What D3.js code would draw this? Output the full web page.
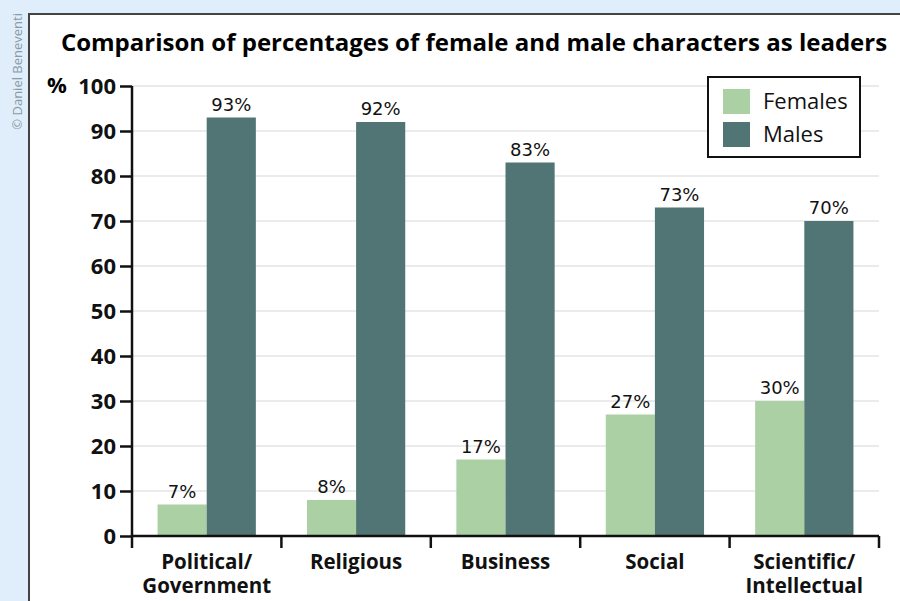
<!DOCTYPE html>
<html>
<head>
<meta charset="utf-8">
<script src="https://cdn.jsdelivr.net/npm/d3@7"></script>
<style>
  body { margin: 0; background: #dfeefa; }
  svg { display: block; font-family: "Open Sans", "Noto Sans", sans-serif; }
</style>
</head>
<body>
<svg id="chart" width="900" height="601"></svg>
<script>
"use strict";

const categories = [["Political/", "Government"], ["Religious"], ["Business"], ["Social"], ["Scientific/", "Intellectual"]];
const females = [7, 8, 17, 27, 30];
const males = [93, 92, 83, 73, 70];
const series = ["Females", "Males"];
const yTicks = [0, 10, 20, 30, 40, 50, 60, 70, 80, 90, 100];

const palette = {Females: "#aad0a3", Males: "#517474"};

const svg = d3.select("#chart");

// white panel
svg.append("rect")
   .attr("x", 29).attr("y", 14)
   .attr("width", 900).attr("height", 620)
   .attr("fill", "#fff")
   .attr("stroke", "#444")
   .attr("stroke-width", 2);

svg.append("text")
   .attr("transform", "translate(22,13) rotate(-90)")
   .attr("text-anchor", "end")
   .attr("font-size", 13)
   .attr("fill", "#8a9aa6")
   .attr("font-family", "'Open Sans', sans-serif")
   .text("\u00a9 Daniel Beneventi");

svg.append("text")
   .attr("x", 474).attr("y", 51)
   .attr("text-anchor", "middle")
   .attr("font-size", 24)
   .attr("font-weight", "bold")
   .text("Comparison of percentages of female and male characters as leaders");

const plotLeft = 132, plotRight = 879, plotTop = 86, plotBottom = 536;

const x = d3.scaleBand()
            .domain(d3.range(categories.length))
            .range([plotLeft, plotRight])
            .paddingInner(0)
            .paddingOuter(0);

const inner = d3.scaleBand()
                .domain(series)
                .range([0, x.bandwidth()])
                .paddingInner(0)
                .paddingOuter(0.52);

const y = d3.scaleLinear().domain([0, 100]).range([plotBottom, plotTop]);

// grid
svg.append("g")
   .selectAll("line")
   .data(yTicks.filter(function(d){ return d > 0; }))
   .enter()
   .append("line")
   .attr("x1", plotLeft).attr("x2", plotRight)
   .attr("y1", function(d){ return y(d); })
   .attr("y2", function(d){ return y(d); })
   .attr("stroke", "#e4e4e4")
   .attr("stroke-width", 1.5);

// bars
const rows = categories.map(function(c, i){
    return [{k: "Females", v: females[i], i: i}, {k: "Males", v: males[i], i: i}];
});

const group = svg.append("g")
                 .selectAll("g")
                 .data(rows)
                 .enter()
                 .append("g")
                 .attr("transform", function(d, i){ return "translate(" + x(i) + ",0)"; });

group.selectAll("rect")
     .data(function(d){ return d; })
     .enter()
     .append("rect")
     .attr("x", function(d){ return inner(d.k); })
     .attr("width", inner.bandwidth())
     .attr("y", function(d){ return y(d.v); })
     .attr("height", function(d){ return y(0) - y(d.v); })
     .attr("fill", function(d){ return palette[d.k]; });

group.selectAll("text")
     .data(function(d){ return d; })
     .enter()
     .append("text")
     .attr("x", function(d){ return inner(d.k) + inner.bandwidth() / 2; })
     .attr("y", function(d){ return y(d.v) - 7; })
     .attr("text-anchor", "middle")
     .attr("font-size", 18)
     .attr("font-family", "'DejaVu Sans', sans-serif")
     .attr("fill", "#111")
     .text(function(d){ return d.v + "%"; });

// y axis
const yAxis = svg.append("g")
                 .attr("transform", "translate(" + plotLeft + ",0)")
                 .call(d3.axisLeft(y).tickValues(yTicks).tickSize(12).tickPadding(4));
yAxis.select(".domain").attr("stroke", "#111").attr("stroke-width", 2.5).attr("d", "M0," + plotTop + "V" + plotBottom);
yAxis.selectAll(".tick line").attr("stroke", "#111").attr("stroke-width", 2.5);
yAxis.selectAll(".tick text")
     .attr("font-size", 22)
     .attr("font-weight", "bold")
     .attr("fill", "#111")
     .attr("font-family", "'Open Sans', sans-serif");

svg.append("text")
   .attr("x", 47).attr("y", y(100))
   .attr("dy", "0.32em")
   .attr("font-size", 22)
   .attr("font-weight", "bold")
   .text("%");

// x axis
svg.append("line")
   .attr("x1", plotLeft).attr("x2", plotRight)
   .attr("y1", plotBottom).attr("y2", plotBottom)
   .attr("stroke", "#111").attr("stroke-width", 2.5);

const bounds = d3.range(categories.length + 1).map(function(i){ return plotLeft + i * x.step(); });
svg.append("g")
   .selectAll("line")
   .data(bounds)
   .enter()
   .append("line")
   .attr("x1", function(d){ return d; }).attr("x2", function(d){ return d; })
   .attr("y1", plotBottom).attr("y2", plotBottom + 12)
   .attr("stroke", "#111").attr("stroke-width", 2.5);

const catLabel = svg.append("g")
   .selectAll("text")
   .data(categories)
   .enter()
   .append("text")
   .attr("x", function(d, i){ return x(i) + x.bandwidth() / 2; })
   .attr("y", 569)
   .attr("text-anchor", "middle")
   .attr("font-size", 20.5)
   .attr("font-weight", "bold")
   .attr("fill", "#111");

catLabel.selectAll("tspan")
        .data(function(d){ return d; })
        .enter()
        .append("tspan")
        .attr("x", function(){ return this.parentNode.getAttribute("x"); })
        .attr("dy", function(d, i){ return i === 0 ? 0 : 24; })
        .text(function(d){ return d; });

// legend
const legend = svg.append("g").attr("transform", "translate(708,77)");
legend.append("rect")
      .attr("width", 152).attr("height", 80)
      .attr("fill", "#fff")
      .attr("stroke", "#111")
      .attr("stroke-width", 2);

const legendRow = legend.selectAll("g.row")
                        .data(series)
                        .enter()
                        .append("g")
                        .attr("class", "row")
                        .attr("transform", function(d, i){ return "translate(15," + (12 + i * 33) + ")"; });

legendRow.append("rect")
         .attr("width", 27).attr("height", 25)
         .attr("fill", function(d){ return palette[d]; });

legendRow.append("text")
         .attr("x", 40).attr("y", 12)
         .attr("dy", "0.35em")
         .attr("font-size", 22)
         .attr("fill", "#111")
         .text(function(d){ return d; });
</script>
</body>
</html>
